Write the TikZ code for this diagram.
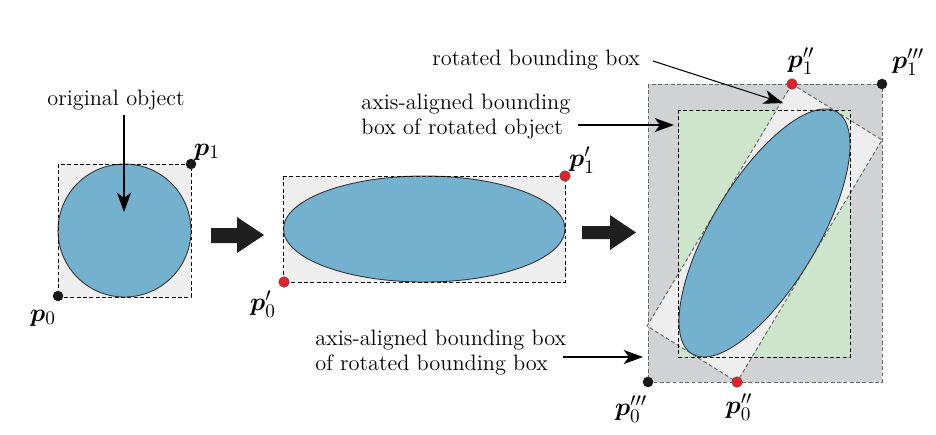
\documentclass[tikz,border=0pt]{standalone}
\usepackage{bm}
\usetikzlibrary{arrows.meta}
\definecolor{objblue}{RGB}{116,177,207}
\definecolor{lightgray}{RGB}{238,238,238}
\definecolor{outergray}{RGB}{209,210,212}
\definecolor{boxgreen}{RGB}{205,230,203}
\definecolor{dotred}{RGB}{232,32,42}
\tikzset{
  px/.style={x=0.02cm,y=-0.02cm},
  dashbox/.style={draw=black,line width=0.55pt,dash pattern=on 2.2pt off 1.4pt},
  graydash/.style={draw=black!60,line width=0.55pt,dash pattern=on 2.2pt off 1.4pt},
  obj/.style={fill=objblue,draw=black!80,line width=0.5pt},
  bdot/.style={circle,fill=black!90,inner sep=0pt,minimum size=6pt},
  rdot/.style={circle,fill=dotred,draw=black!70,line width=0.3pt,inner sep=0pt,minimum size=6pt},
  lab/.style={font=\fontsize{12.7}{14.2}\selectfont,inner sep=0pt,anchor=base west,align=left},
  plab/.style={font=\fontsize{15}{17}\selectfont,inner sep=0pt},
  pointer/.style={line width=0.6pt,-{Stealth[length=11pt,width=8pt,inset=3pt]}},
  bigarrow/.style={fill=black!88}
}
\begin{document}
\begin{tikzpicture}[px]
\useasboundingbox (0,0) rectangle (936,434);
% ---- left: original object
\path[fill=lightgray] (58,164) rectangle (191,297);
\draw[obj] (124.5,230.5) circle (66.5);
\draw[dashbox] (58,164) rectangle (191,297);
\node[bdot] (p1) at (191,164) {};
\node[bdot] (p0) at (58,296) {};
\node[plab] (lp1) at (207,152) {$\bm{p}_1$};
\node[plab] (lp0) at (43,318) {$\bm{p}_0$};
\node[lab] (torig) at (47,105.7) {original object};
\coordinate (origtip) at (124,212);
\draw[pointer] (124,115) -- (origtip);
% ---- big arrows
\fill[bigarrow] (211,228) -- (237,228) -- (237,217) -- (264,235) -- (237,253) -- (237,243) -- (211,243) -- cycle;
\fill[bigarrow] (582,226) -- (610,226) -- (610,215) -- (636,232.5) -- (610,250) -- (610,239) -- (582,239) -- cycle;
% ---- middle: scaled object
\path[fill=lightgray] (283.5,176) rectangle (565,282);
\draw[obj] (424.25,229) ellipse (140.75 and 53);
\draw[dashbox] (283.5,176) rectangle (565,282);
\node[rdot] (q1) at (565,176) {};
\node[rdot] (q0) at (284,282) {};
\node[plab] (lq1) at (582,160) {$\bm{p}_1^{\prime}$};
\node[plab] (lq0) at (263,304) {$\bm{p}_0^{\prime}$};
% ---- right: rotated object
\path[fill=outergray] (648,84) rectangle (882,382);
\draw[graydash] (648,84) rectangle (882,382);
\path[fill=boxgreen] (678.5,110) rectangle (850,357);
\path[fill=lightgray] (792,84) -- (882,140) -- (737,382) -- (647,326) -- cycle;
\draw[graydash] (792,84) -- (882,140) -- (737,382) -- (647,326) -- cycle;
\draw[obj,rotate around={59.1:(764.5,233)}] (764.5,233) ellipse (141 and 53);
\draw[dashbox] (678.5,110) rectangle (850,357);
\node[rdot] (r1) at (792,84) {};
\node[rdot] (r0) at (737,382) {};
\node[bdot] (s1) at (882,84) {};
\node[bdot] (s0) at (648,382) {};
\node[plab] (lr1) at (801,61) {$\bm{p}_1^{\prime\prime}$};
\node[plab] (ls1) at (908,62) {$\bm{p}_1^{\prime\prime\prime}$};
\node[plab] (lr0) at (739,407) {$\bm{p}_0^{\prime\prime}$};
\node[plab] (ls0) at (631,409) {$\bm{p}_0^{\prime\prime\prime}$};
% ---- annotations
\node[lab] (trot) at (432,65) {rotated bounding box};
\coordinate (rotstart) at (653,61);
\coordinate (rottip) at (783,103);
\draw[pointer] (rotstart) -- (rottip);
\node[lab] (taabb) at (361,134) {axis-aligned bounding\\box of rotated object};
\coordinate (aabbstart) at (578,125);
\coordinate (aabbtip) at (674,125);
\draw[pointer] (aabbstart) -- (aabbtip);
\node[lab] (taabb2) at (315,370) {axis-aligned bounding box\\of rotated bounding box};
\coordinate (aabb2start) at (563,357);
\coordinate (aabb2tip) at (643,357);
\draw[pointer] (aabb2start) -- (aabb2tip);
\end{tikzpicture}
\end{document}
